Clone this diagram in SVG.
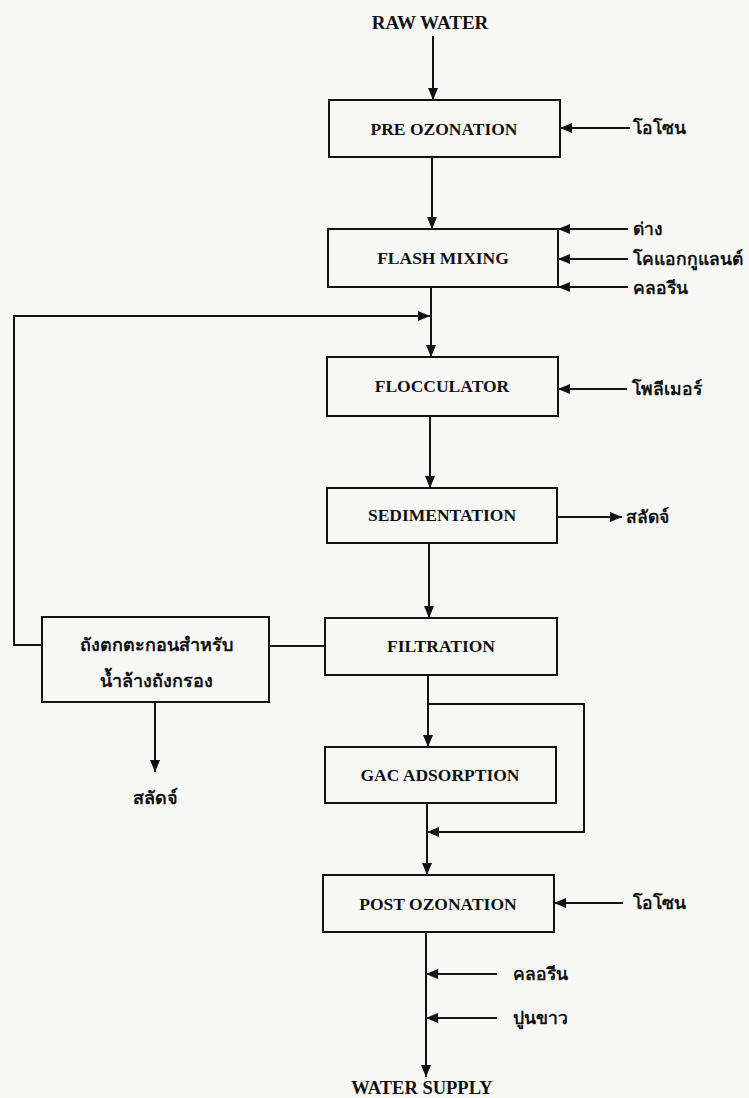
<svg xmlns="http://www.w3.org/2000/svg" width="749" height="1098" viewBox="0 0 749 1098">
<defs>
<marker id="ah" markerUnits="userSpaceOnUse" markerWidth="12" markerHeight="10" refX="12" refY="5" orient="auto">
<path d="M0,0 L12,5 L0,10 Z" fill="#111"/>
</marker>
<style>
.bx{fill:none;stroke:#111;stroke-width:2}
.ln{fill:none;stroke:#111;stroke-width:2}
.ar{fill:none;stroke:#111;stroke-width:2;marker-end:url(#ah)}
.en{font-family:"Liberation Serif","Times New Roman",serif;font-size:17.5px;font-weight:bold;fill:#111;text-anchor:middle}
.th{font-family:"Noto Sans","DejaVu Sans",sans-serif;font-size:17.5px;font-weight:bold;fill:#111}
.thc{font-family:"Noto Sans","DejaVu Sans",sans-serif;font-size:18px;font-weight:bold;fill:#111;text-anchor:middle}
</style>
</defs>
<rect width="749" height="1098" fill="#f7f7f5"/>
<g id="connectors">
<line class="ar" x1="433" y1="36" x2="433" y2="100"/>
<line class="ar" x1="630" y1="128" x2="560" y2="128"/>
<line class="ar" x1="432" y1="157" x2="432" y2="229"/>
<line class="ar" x1="628" y1="229" x2="558" y2="229"/>
<line class="ar" x1="628" y1="259" x2="558" y2="259"/>
<line class="ar" x1="628" y1="287" x2="558" y2="287"/>
<line class="ar" x1="431" y1="287" x2="431" y2="357"/>
<polyline class="ar" points="42,645 14,645 14,316 430,316"/>
<line class="ar" x1="627" y1="389" x2="558" y2="389"/>
<line class="ar" x1="430" y1="416" x2="430" y2="488"/>
<line class="ar" x1="557" y1="517" x2="622" y2="517"/>
<line class="ar" x1="429" y1="543" x2="429" y2="618"/>
<line class="ln" x1="269" y1="646" x2="325" y2="646"/>
<line class="ar" x1="155" y1="702" x2="155" y2="772"/>
<line class="ar" x1="428" y1="675" x2="428" y2="747"/>
<polyline class="ar" points="428,704 584,704 584,832 427,832"/>
<line class="ar" x1="427" y1="803" x2="427" y2="875"/>
<line class="ar" x1="623" y1="903" x2="554" y2="903"/>
<line class="ar" x1="426" y1="932" x2="426" y2="1077"/>
<line class="ar" x1="497" y1="974" x2="426" y2="974"/>
<line class="ar" x1="497" y1="1018" x2="426" y2="1018"/>
</g>
<g id="raw-water"><text class="en" x="430" y="29" style="font-size:19px">RAW WATER</text></g>
<g id="pre-ozonation"><rect class="bx" x="329" y="100" width="231" height="57"/><text class="en" x="444" y="135">PRE OZONATION</text></g>
<g id="ozone-1"><text class="th" x="633" y="134">โอโซน</text></g>
<g id="flash-mixing"><rect class="bx" x="328" y="229" width="230" height="58"/><text class="en" x="443" y="264">FLASH MIXING</text></g>
<g id="chem-1"><text class="th" x="633" y="235">ด่าง</text></g>
<g id="chem-2"><text class="th" x="633" y="265">โคแอกกูแลนต์</text></g>
<g id="chem-3"><text class="th" x="633" y="294">คลอรีน</text></g>
<g id="flocculator"><rect class="bx" x="327" y="357" width="231" height="59"/><text class="en" x="442" y="392">FLOCCULATOR</text></g>
<g id="polymer"><text class="th" x="632" y="395">โพลีเมอร์</text></g>
<g id="sedimentation"><rect class="bx" x="327" y="488" width="230" height="55"/><text class="en" x="442" y="521">SEDIMENTATION</text></g>
<g id="sludge-1"><text class="th" x="626" y="523">สลัดจ์</text></g>
<g id="filtration"><rect class="bx" x="325" y="618" width="232" height="57"/><text class="en" x="441" y="652">FILTRATION</text></g>
<g id="washwater-tank"><rect class="bx" x="42" y="617" width="227" height="85"/><text class="thc" x="156" y="651">ถังตกตะกอนสำหรับ</text><text class="thc" x="156" y="687">น้ำล้างถังกรอง</text></g>
<g id="sludge-2"><text class="thc" x="155" y="804">สลัดจ์</text></g>
<g id="gac"><rect class="bx" x="325" y="747" width="231" height="56"/><text class="en" x="440" y="781">GAC ADSORPTION</text></g>
<g id="post-ozonation"><rect class="bx" x="323" y="875" width="231" height="57"/><text class="en" x="438" y="910">POST OZONATION</text></g>
<g id="ozone-2"><text class="th" x="633" y="909">โอโซน</text></g>
<g id="chlorine"><text class="th" x="513" y="980">คลอรีน</text></g>
<g id="lime"><text class="th" x="513" y="1024">ปูนขาว</text></g>
<g id="water-supply"><text class="en" x="422" y="1094" style="font-size:18.5px">WATER SUPPLY</text></g>
</svg>
